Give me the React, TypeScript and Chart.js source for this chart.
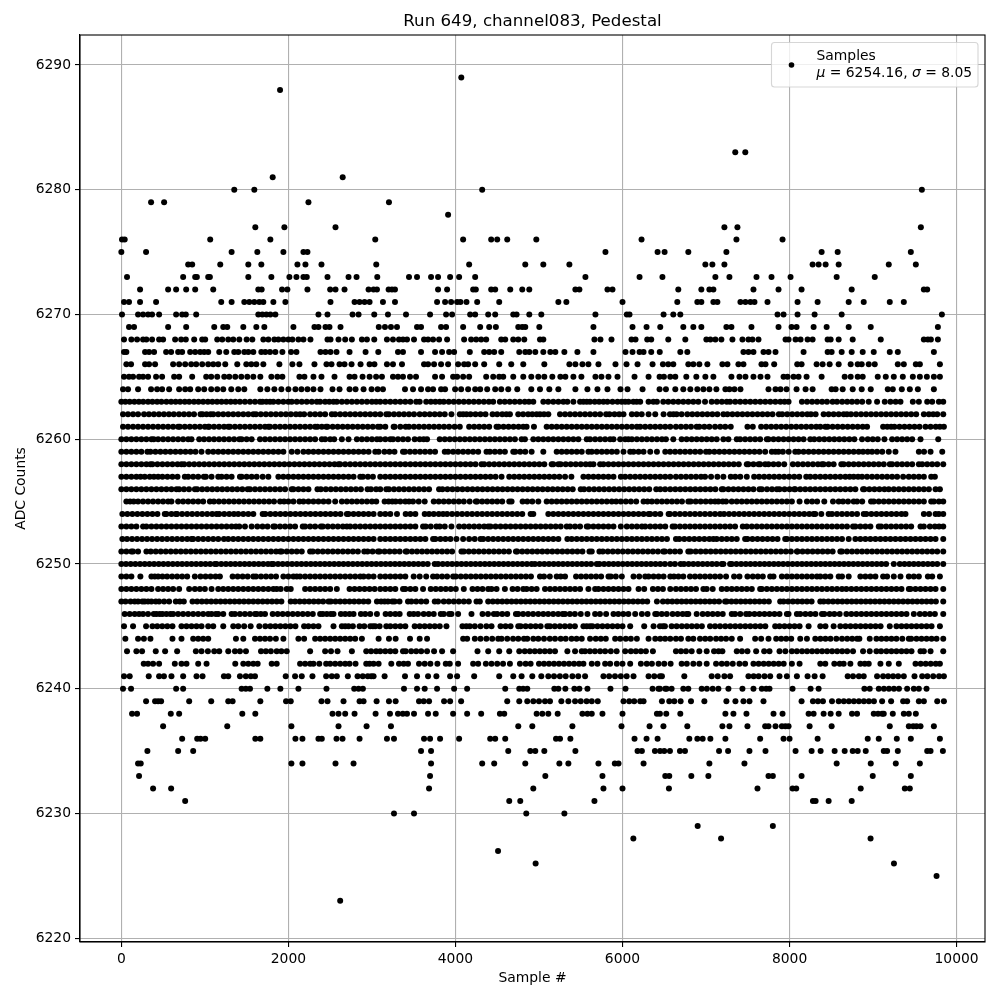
import React, { useEffect, useRef } from "react";
import { Chart, registerables } from "chart.js";

Chart.register(...registerables);

const xTicks = [0, 2000, 4000, 6000, 8000, 10000];
const yTicks = [6220, 6230, 6240, 6250, 6260, 6270, 6280, 6290];
const titleText = "Run 649, channel083, Pedestal";
const xLabel = "Sample #";
const yLabel = "ADC Counts";

const y6289 = [4070];
const y6288 = [1900];
const y6283 = [7350, 7470];
const y6281 = [1812, 2650];
const y6280 = [1352, 1592, 4320, 9584];
const y6279 = [356, 512, 2240, 3204];
const y6278 = [3912];
const y6277 = [1604, 1952, 2564, 7220, 7376, 9572];
const y6276 = [8, 40, 1064, 1784, 3040, 4092, 4428, 4500, 4620, 4968, 6228, 7364, 7916];
const y6275 = [0, 296, 1320, 1628, 1940, 2180, 2228, 5796, 6420, 6504, 6788, 7244, 8384, 8576, 9452];
const y6274 = [800, 848, 1184, 1520, 1676, 2108, 2204, 2396, 3052, 4164, 4836, 5052, 5364, 6992, 7076, 7220, 8276, 8348, 8432, 8588, 9188, 9512];
const y6273 = [68, 740, 884, 904, 1040, 1060, 1520, 1796, 2012, 2096, 2180, 2220, 2468, 2720, 2816, 3064, 3444, 3540, 3708, 3792, 3936, 4044, 4236, 5556, 6204, 6478, 7112, 7280, 7604, 7784, 8012, 8564, 9020];
const y6272 = [224, 560, 656, 776, 884, 1100, 1640, 1680, 1924, 1988, 2228, 2500, 2564, 2672, 2960, 3020, 3060, 3200, 3240, 3276, 3792, 3900, 4212, 4244, 4428, 4476, 4656, 4800, 4884, 5436, 5484, 5820, 5880, 6668, 6944, 7040, 7088, 7568, 7868, 8144, 8744, 9608, 9648];
const y6271 = [32, 92, 224, 416, 1196, 1320, 1472, 1532, 1592, 1652, 1700, 1820, 1964, 2504, 2792, 2852, 2912, 2972, 3132, 3276, 3780, 3876, 3948, 4020, 4060, 4132, 4260, 4524, 5232, 5328, 6000, 6656, 6896, 6944, 7088, 7136, 7412, 7472, 7532, 7580, 7736, 8096, 8336, 8708, 8888, 9200, 9368];
const y6270 = [8, 200, 260, 320, 368, 452, 656, 728, 772, 896, 1640, 1688, 1736, 1784, 1844, 2360, 2468, 2768, 2840, 3028, 3192, 3408, 3696, 3888, 3960, 4176, 4236, 4392, 4476, 4692, 4732, 4884, 5028, 5676, 6052, 6084, 6492, 6608, 6692, 7856, 7928, 8096, 8300, 8624, 9824];
const y6269 = [92, 152, 560, 776, 1112, 1220, 1268, 1460, 1616, 1712, 2060, 2312, 2360, 2444, 2492, 2624, 3082, 3156, 3228, 3300, 3540, 3588, 3828, 3888, 4092, 4296, 4404, 4484, 4752, 4800, 4836, 5004, 5652, 6120, 6288, 6452, 6728, 6848, 6944, 7244, 7304, 7544, 7868, 8024, 8084, 8288, 8444, 8708, 8972, 9776];
const y6268 = [32, 120, 188, 260, 300, 368, 452, 500, 644, 716, 772, 872, 968, 1004, 1148, 1208, 1280, 1340, 1412, 1500, 1568, 1700, 1760, 1832, 1880, 1940, 2000, 2048, 2120, 2180, 2264, 2468, 2504, 2600, 2680, 2760, 2880, 2940, 3028, 3180, 3252, 3324, 3372, 3420, 3504, 3624, 3672, 3732, 3804, 3900, 4104, 4188, 4248, 4308, 4368, 4548, 4596, 4692, 4752, 4824, 5012, 5052, 5664, 5736, 5868, 6108, 6156, 6296, 6344, 6548, 6752, 7004, 7052, 7112, 7184, 7316, 7436, 7508, 7556, 7628, 7952, 7988, 8072, 8132, 8216, 8276, 8456, 8492, 8588, 8756, 9092, 9608, 9656, 9692, 9776];
const y6267 = [32, 60, 284, 332, 392, 536, 596, 680, 728, 824, 884, 944, 992, 1040, 1172, 1256, 1352, 1400, 1472, 1520, 1580, 1676, 1724, 1780, 1844, 1928, 2032, 2096, 2384, 2444, 2504, 2576, 2732, 2924, 3076, 3312, 3372, 3588, 3756, 3840, 3924, 3984, 4172, 4344, 4404, 4464, 4548, 4764, 4836, 4884, 4956, 5052, 5136, 5196, 5304, 5460, 5652, 6036, 6120, 6204, 6252, 6344, 6446, 6692, 6776, 7448, 7508, 7568, 7688, 7748, 7832, 8168, 8456, 8504, 8624, 8744, 8876, 9008, 9200, 9296, 9728];
const y6266 = [60, 116, 284, 332, 404, 620, 692, 764, 836, 896, 968, 1040, 1100, 1160, 1244, 1388, 1496, 1556, 1616, 1700, 1892, 2048, 2132, 2312, 2456, 2516, 2612, 2672, 2756, 2864, 2972, 3030, 3180, 3252, 3360, 3624, 3672, 3744, 3828, 3912, 4032, 4104, 4152, 4236, 4344, 4524, 4668, 4812, 5064, 5364, 5436, 5520, 5592, 5712, 5916, 6048, 6180, 6360, 6484, 6548, 6608, 6788, 6848, 6920, 7016, 7196, 7256, 7388, 7448, 7664, 7712, 7816, 8092, 8144, 8324, 8396, 8480, 8588, 8732, 8816, 8864, 8948, 9020, 9296, 9368, 9512, 9560, 9800];
const y6265 = [32, 92, 140, 212, 260, 320, 416, 488, 632, 692, 848, 1016, 1076, 1148, 1232, 1292, 1364, 1436, 1508, 1580, 1664, 1796, 1868, 1928, 2132, 2192, 2300, 2396, 2552, 2732, 2792, 2888, 2972, 3050, 3120, 3252, 3312, 3372, 3456, 3528, 3756, 3840, 3972, 4020, 4092, 4164, 4368, 4452, 4524, 4572, 4692, 4812, 4908, 4992, 5064, 5160, 5256, 5316, 5412, 5508, 5676, 5748, 5832, 5940, 6144, 6312, 6444, 6496, 6572, 6632, 6764, 6884, 6992, 7088, 7304, 7400, 7472, 7568, 7652, 7736, 7928, 7976, 8048, 8108, 8204, 8384, 8660, 8732, 8816, 8876, 9056, 9152, 9248, 9356, 9476, 9560, 9644, 9728, 9800];
const y6264 = [20, 80, 200, 356, 428, 488, 572, 692, 764, 824, 920, 992, 1076, 1148, 1220, 1316, 1400, 1472, 1664, 1748, 1832, 1916, 2000, 2084, 2156, 2228, 2300, 2384, 2528, 2612, 2732, 2804, 2900, 2996, 3068, 3132, 3396, 3492, 3588, 3672, 3732, 3828, 3876, 3996, 4068, 4152, 4236, 4296, 4380, 4476, 4548, 4632, 4740, 4908, 5012, 5124, 5232, 5436, 5580, 5700, 5820, 5976, 6060, 6240, 6444, 6520, 6632, 6728, 6812, 6896, 6968, 7040, 7124, 7232, 7280, 7340, 7412, 7748, 7832, 7892, 7964, 8084, 8192, 8276, 8504, 8552, 8636, 8756, 8864, 8972, 9176, 9236, 9344, 9440, 9536, 9728];
const y6263 = [0, 48, 100, 156, 210, 262, 320, 372, 428, 480, 540, 596, 650, 704, 760, 812, 870, 924, 980, 1036, 1090, 1146, 1200, 1256, 1310, 1364, 1420, 1480, 1540, 1600, 1660, 1690, 1736, 1780, 1820, 1880, 1940, 2000, 2040, 2100, 2160, 2220, 2280, 2340, 2380, 2440, 2490, 2540, 2580, 2640, 2700, 2760, 2820, 2880, 2940, 3000, 3050, 3100, 3160, 3220, 3280, 3340, 3400, 3460, 3530, 3572, 3650, 3706, 3760, 3812, 3860, 3920, 3980, 4040, 4100, 4160, 4220, 4280, 4340, 4400, 4452, 4532, 4590, 4650, 4710, 4770, 4830, 4880, 4932, 5052, 5110, 5172, 5232, 5292, 5340, 5412, 5492, 5532, 5572, 5612, 5668, 5720, 5772, 5820, 5880, 5940, 5990, 6032, 6072, 6130, 6170, 6212, 6312, 6370, 6412, 6488, 6548, 6608, 6668, 6728, 6788, 6848, 6908, 6988, 7068, 7130, 7190, 7248, 7288, 7350, 7410, 7470, 7530, 7590, 7650, 7710, 7770, 7830, 7890, 7940, 7988, 8148, 8210, 8270, 8330, 8390, 8448, 8516, 8568, 8630, 8690, 8748, 8808, 8870, 8948, 9048, 9140, 9208, 9270, 9328, 9476, 9548, 9648, 9708, 9788, 9840];
const y6262 = [20, 80, 140, 200, 272, 330, 390, 450, 510, 570, 628, 690, 750, 810, 870, 948, 972, 1020, 1068, 1100, 1160, 1220, 1280, 1340, 1400, 1460, 1520, 1580, 1612, 1670, 1730, 1790, 1850, 1910, 1970, 2030, 2090, 2140, 2188, 2260, 2320, 2380, 2440, 2520, 2560, 2620, 2680, 2740, 2800, 2860, 2920, 2980, 3040, 3100, 3172, 3204, 3264, 3324, 3384, 3444, 3504, 3572, 3632, 3692, 3752, 3812, 3872, 3952, 4052, 4092, 4132, 4180, 4240, 4300, 4360, 4444, 4500, 4560, 4610, 4652, 4752, 4810, 4870, 4920, 4972, 5012, 5060, 5112, 5252, 5312, 5372, 5432, 5492, 5552, 5612, 5672, 5732, 5804, 5844, 5904, 5960, 6012, 6112, 6170, 6230, 6312, 6392, 6492, 6568, 6610, 6648, 6708, 6776, 6836, 6896, 6956, 7016, 7076, 7136, 7208, 7256, 7316, 7376, 7436, 7496, 7556, 7616, 7676, 7736, 7796, 7872, 7912, 7972, 8032, 8092, 8152, 8212, 8256, 8312, 8408, 8468, 8528, 8588, 8648, 8688, 8736, 8796, 8856, 8916, 8976, 9036, 9096, 9156, 9216, 9276, 9336, 9396, 9456, 9516, 9608, 9668, 9720, 9768, 9840];
const y6261 = [20, 80, 140, 200, 260, 320, 380, 440, 500, 560, 620, 680, 700, 760, 820, 880, 940, 1000, 1040, 1052, 1110, 1170, 1230, 1280, 1300, 1360, 1420, 1480, 1540, 1600, 1660, 1720, 1760, 1780, 1840, 1900, 1960, 2020, 2080, 2140, 2200, 2260, 2320, 2348, 2400, 2452, 2468, 2530, 2590, 2650, 2710, 2770, 2830, 2890, 2950, 3010, 3072, 3100, 3160, 3260, 3272, 3340, 3404, 3444, 3504, 3564, 3624, 3684, 3744, 3804, 3864, 3924, 3990, 4052, 4164, 4224, 4284, 4344, 4404, 4492, 4516, 4576, 4636, 4696, 4756, 4812, 4852, 4940, 5092, 5152, 5212, 5272, 5332, 5392, 5452, 5512, 5572, 5632, 5692, 5752, 5812, 5872, 5932, 5992, 6052, 6112, 6172, 6212, 6272, 6332, 6392, 6452, 6512, 6572, 6640, 6700, 6760, 6820, 6888, 6920, 6980, 7040, 7108, 7170, 7230, 7296, 7496, 7560, 7660, 7720, 7780, 7840, 7900, 7960, 8020, 8080, 8140, 8200, 8260, 8320, 8368, 8428, 8456, 8516, 8576, 8636, 8696, 8756, 8816, 8876, 8928, 9120, 9170, 9216, 9256, 9316, 9376, 9436, 9496, 9556, 9628, 9688, 9750, 9800, 9848];
const y6260 = [0, 60, 120, 180, 240, 300, 360, 388, 440, 500, 560, 620, 680, 740, 800, 840, 932, 990, 1050, 1110, 1170, 1230, 1290, 1350, 1412, 1440, 1500, 1560, 1660, 1720, 1780, 1840, 1900, 1960, 2020, 2080, 2140, 2200, 2260, 2320, 2400, 2440, 2500, 2548, 2640, 2720, 2820, 2880, 2940, 3000, 3060, 3100, 3160, 3220, 3252, 3312, 3372, 3432, 3512, 3572, 3620, 3660, 3812, 3872, 3932, 3992, 4052, 4112, 4172, 4232, 4292, 4352, 4412, 4472, 4532, 4592, 4652, 4712, 4792, 4832, 4932, 4992, 5052, 5112, 5172, 5232, 5292, 5352, 5412, 5472, 5572, 5612, 5672, 5732, 5792, 5852, 5892, 5972, 6032, 6070, 6112, 6172, 6232, 6292, 6352, 6412, 6472, 6520, 6608, 6708, 6768, 6828, 6888, 6948, 7008, 7068, 7128, 7208, 7268, 7368, 7408, 7468, 7528, 7588, 7648, 7728, 7748, 7808, 7868, 7928, 7988, 8048, 8108, 8168, 8248, 8296, 8356, 8416, 8476, 8536, 8596, 8656, 8716, 8776, 8868, 8936, 8996, 9056, 9136, 9228, 9288, 9348, 9408, 9468, 9568, 9780];
const y6259 = [0, 60, 120, 180, 240, 312, 348, 408, 468, 528, 588, 648, 708, 768, 828, 888, 960, 1040, 1100, 1160, 1220, 1280, 1340, 1400, 1460, 1520, 1580, 1640, 1700, 1760, 1820, 1880, 1940, 2040, 2108, 2180, 2240, 2300, 2360, 2420, 2480, 2540, 2600, 2660, 2720, 2780, 2840, 2900, 2960, 3040, 3080, 3150, 3210, 3270, 3372, 3396, 3456, 3516, 3576, 3636, 3696, 3756, 3872, 3912, 3972, 4032, 4092, 4152, 4212, 4272, 4372, 4412, 4472, 4532, 4592, 4692, 4716, 4776, 4836, 4912, 5052, 5212, 5272, 5332, 5392, 5452, 5512, 5592, 5632, 5692, 5752, 5812, 5872, 5932, 6012, 6092, 6132, 6192, 6252, 6332, 6412, 6512, 6570, 6630, 6690, 6750, 6810, 6870, 6930, 7000, 7040, 7100, 7160, 7220, 7280, 7340, 7400, 7460, 7520, 7580, 7640, 7708, 7788, 7830, 7868, 7920, 7990, 8068, 8108, 8168, 8228, 8288, 8348, 8408, 8468, 8528, 8588, 8648, 8708, 8768, 8828, 8880, 8936, 8988, 9048, 9110, 9188, 9268, 9548, 9610, 9688, 9828];
const y6258 = [0, 60, 120, 180, 240, 300, 348, 372, 432, 492, 552, 612, 672, 720, 752, 812, 872, 932, 992, 1052, 1112, 1172, 1232, 1292, 1352, 1412, 1472, 1532, 1592, 1652, 1712, 1772, 1832, 1892, 1952, 2012, 2072, 2132, 2192, 2252, 2312, 2372, 2432, 2492, 2552, 2600, 2620, 2680, 2740, 2800, 2860, 2920, 2980, 3040, 3100, 3160, 3220, 3280, 3340, 3400, 3460, 3520, 3580, 3640, 3700, 3760, 3820, 3880, 3940, 4000, 4060, 4120, 4180, 4240, 4312, 4344, 4404, 4464, 4524, 4584, 4644, 4704, 4764, 4824, 4884, 4944, 5004, 5064, 5152, 5172, 5232, 5260, 5320, 5380, 5440, 5500, 5560, 5612, 5652, 5732, 5772, 5832, 5892, 5952, 6012, 6072, 6132, 6192, 6252, 6312, 6372, 6432, 6492, 6552, 6612, 6672, 6732, 6792, 6852, 6912, 6972, 7032, 7092, 7152, 7212, 7272, 7332, 7392, 7488, 7508, 7568, 7628, 7648, 7708, 7748, 7808, 7868, 7936, 8040, 8100, 8160, 8220, 8280, 8340, 8388, 8408, 8468, 8528, 8620, 8648, 8708, 8768, 8828, 8888, 8948, 9008, 9068, 9128, 9200, 9228, 9288, 9348, 9408, 9468, 9548, 9588, 9648, 9708, 9768, 9840];
const y6257 = [0, 60, 120, 180, 230, 280, 340, 390, 440, 492, 552, 612, 672, 760, 800, 860, 920, 988, 1012, 1080, 1160, 1200, 1260, 1320, 1420, 1440, 1500, 1560, 1620, 1692, 1760, 1880, 1940, 2000, 2060, 2120, 2180, 2240, 2300, 2360, 2420, 2480, 2540, 2600, 2660, 2720, 2780, 2860, 2892, 2952, 3012, 3100, 3160, 3220, 3280, 3340, 3400, 3460, 3520, 3580, 3640, 3700, 3760, 3820, 3880, 3940, 4000, 4060, 4120, 4180, 4240, 4300, 4360, 4420, 4480, 4552, 4644, 4704, 4764, 4824, 4884, 4944, 5004, 5064, 5124, 5184, 5244, 5312, 5388, 5532, 5592, 5652, 5712, 5772, 5832, 5892, 5980, 6032, 6092, 6152, 6212, 6272, 6332, 6392, 6452, 6512, 6572, 6640, 6700, 6760, 6820, 6880, 6940, 6988, 7060, 7136, 7208, 7296, 7350, 7410, 7488, 7576, 7636, 7696, 7756, 7816, 7876, 7936, 7996, 8056, 8116, 8200, 8248, 8308, 8368, 8428, 8488, 8548, 8608, 8668, 8720, 8768, 8820, 8868, 8928, 8988, 9048, 9108, 9168, 9228, 9288, 9360, 9428, 9488, 9548, 9608, 9696, 9740];
const y6256 = [0, 60, 120, 180, 240, 300, 360, 420, 480, 540, 600, 660, 692, 750, 810, 880, 908, 968, 1028, 1088, 1148, 1208, 1268, 1328, 1388, 1448, 1512, 1540, 1600, 1660, 1720, 1780, 1840, 1900, 1960, 2040, 2060, 2120, 2180, 2240, 2348, 2388, 2448, 2508, 2568, 2628, 2688, 2748, 2808, 2868, 2948, 2988, 3050, 3100, 3172, 3204, 3264, 3324, 3384, 3444, 3504, 3564, 3624, 3684, 3804, 3844, 3904, 3964, 4024, 4084, 4144, 4204, 4264, 4324, 4384, 4444, 4504, 4564, 4624, 4684, 4744, 4804, 4864, 4924, 4984, 5044, 5104, 5164, 5224, 5284, 5344, 5404, 5500, 5540, 5600, 5660, 5720, 5780, 5840, 5900, 5960, 6020, 6080, 6140, 6200, 6260, 6320, 6404, 6452, 6510, 6572, 6632, 6692, 6752, 6812, 6872, 6932, 6992, 7052, 7112, 7188, 7208, 7268, 7328, 7388, 7448, 7508, 7568, 7640, 7668, 7730, 7790, 7848, 7880, 7940, 8000, 8056, 8068, 8128, 8188, 8248, 8308, 8368, 8428, 8488, 8548, 8608, 8668, 8728, 8788, 8880, 8896, 8956, 9016, 9076, 9136, 9188, 9248, 9308, 9368, 9428, 9488, 9548, 9608, 9668, 9748, 9800];
const y6255 = [60, 104, 148, 200, 260, 320, 380, 440, 500, 560, 600, 680, 740, 800, 860, 920, 980, 1060, 1108, 1168, 1228, 1288, 1348, 1408, 1468, 1528, 1588, 1648, 1708, 1768, 1828, 1900, 1948, 2000, 2060, 2132, 2180, 2240, 2300, 2360, 2420, 2480, 2560, 2640, 2700, 2760, 2820, 2880, 2940, 3000, 3052, 3152, 3200, 3244, 3284, 3340, 3400, 3444, 3492, 3560, 3632, 3740, 3800, 3860, 3920, 3980, 4040, 4100, 4170, 4244, 4260, 4320, 4380, 4440, 4500, 4560, 4644, 4672, 4804, 4860, 4920, 4992, 5092, 5152, 5212, 5272, 5332, 5392, 5452, 5512, 5572, 5632, 5692, 5752, 5812, 5872, 5924, 5980, 6040, 6100, 6164, 6252, 6300, 6352, 6412, 6472, 6532, 6592, 6652, 6712, 6788, 6816, 6876, 6936, 6996, 7056, 7108, 7148, 7200, 7240, 7308, 7368, 7428, 7488, 7548, 7608, 7668, 7728, 7788, 7848, 7908, 7968, 8028, 8120, 8208, 8270, 8330, 8416, 8520, 8588, 8640, 8700, 8768, 8808, 8870, 8976, 9008, 9068, 9128, 9188, 9248, 9308, 9368, 9428, 9488, 9548, 9608, 9696, 9728, 9788, 9840];
const y6254 = [12, 72, 132, 192, 252, 312, 372, 432, 520, 540, 600, 652, 668, 728, 788, 848, 908, 968, 1028, 1088, 1140, 1172, 1232, 1292, 1348, 1400, 1460, 1520, 1580, 1692, 1724, 1784, 1844, 1904, 1964, 2024, 2084, 2144, 2204, 2264, 2324, 2384, 2444, 2504, 2564, 2624, 2700, 2720, 2780, 2840, 2900, 2960, 3020, 3100, 3160, 3220, 3300, 3404, 3460, 3520, 3632, 3684, 3740, 3800, 3852, 3900, 3960, 4020, 4080, 4140, 4200, 4260, 4320, 4380, 4440, 4500, 4560, 4620, 4680, 4740, 4800, 4900, 4932, 5112, 5172, 5232, 5292, 5352, 5412, 5472, 5532, 5592, 5652, 5712, 5772, 5832, 5892, 5952, 6012, 6072, 6132, 6192, 6252, 6312, 6332, 6392, 6452, 6552, 6568, 6628, 6688, 6748, 6808, 6868, 6928, 6988, 7048, 7108, 7168, 7216, 7276, 7336, 7396, 7456, 7516, 7576, 7636, 7696, 7756, 7816, 7876, 7936, 7996, 8056, 8116, 8176, 8236, 8288, 8308, 8380, 8468, 8508, 8568, 8628, 8688, 8748, 8808, 8888, 8920, 8980, 9040, 9100, 9160, 9220, 9280, 9340, 9388, 9608, 9670, 9748, 9788, 9840];
const y6253 = [0, 60, 120, 180, 260, 300, 360, 420, 480, 540, 600, 660, 720, 780, 840, 900, 960, 1020, 1080, 1140, 1200, 1260, 1320, 1372, 1412, 1480, 1560, 1628, 1690, 1750, 1820, 1840, 1900, 1960, 2020, 2080, 2172, 2200, 2260, 2320, 2388, 2412, 2472, 2532, 2592, 2652, 2700, 2740, 2800, 2860, 2920, 2980, 3040, 3100, 3160, 3220, 3280, 3340, 3400, 3460, 3520, 3612, 3644, 3704, 3772, 3812, 3872, 3952, 4044, 4104, 4164, 4224, 4284, 4344, 4392, 4420, 4480, 4540, 4600, 4660, 4720, 4780, 4840, 4900, 4960, 5020, 5080, 5140, 5200, 5260, 5332, 5372, 5432, 5492, 5572, 5592, 5652, 5712, 5772, 5832, 5892, 5980, 6052, 6112, 6172, 6232, 6272, 6332, 6392, 6452, 6512, 6600, 6628, 6688, 6748, 6808, 6868, 6928, 6988, 7048, 7108, 7168, 7228, 7288, 7348, 7440, 7488, 7548, 7608, 7668, 7728, 7788, 7848, 7908, 7968, 8028, 8088, 8148, 8208, 8268, 8328, 8388, 8448, 8508, 8568, 8628, 8688, 8760, 8788, 8848, 8908, 8968, 9068, 9096, 9156, 9216, 9276, 9336, 9396, 9456, 9568, 9608, 9680, 9740, 9790, 9840];
const y6252 = [12, 68, 128, 188, 248, 308, 368, 428, 488, 548, 608, 668, 728, 788, 840, 860, 920, 980, 1040, 1100, 1160, 1228, 1280, 1340, 1400, 1460, 1520, 1580, 1640, 1700, 1760, 1820, 1880, 1940, 2000, 2060, 2120, 2180, 2240, 2300, 2360, 2420, 2480, 2540, 2600, 2660, 2720, 2780, 2840, 2900, 2960, 3020, 3100, 3160, 3220, 3280, 3340, 3400, 3460, 3520, 3580, 3640, 3732, 3760, 3820, 3880, 3940, 4012, 4092, 4164, 4230, 4300, 4332, 4392, 4452, 4512, 4572, 4632, 4692, 4752, 4812, 4872, 4932, 4992, 5052, 5112, 5172, 5232, 5340, 5392, 5452, 5512, 5572, 5632, 5692, 5752, 5812, 5872, 5932, 5992, 6052, 6112, 6172, 6232, 6292, 6352, 6412, 6472, 6532, 6640, 6680, 6740, 6800, 6860, 6920, 6980, 7040, 7088, 7128, 7188, 7248, 7308, 7368, 7468, 7496, 7556, 7616, 7676, 7736, 7796, 7856, 7948, 7968, 8028, 8088, 8148, 8208, 8268, 8328, 8388, 8448, 8508, 8568, 8628, 8708, 8788, 8848, 8908, 8968, 9028, 9088, 9148, 9208, 9268, 9328, 9388, 9448, 9508, 9568, 9628, 9688, 9748, 9840];
const y6251 = [0, 60, 120, 140, 200, 300, 352, 412, 472, 532, 592, 652, 712, 772, 832, 892, 952, 1012, 1072, 1132, 1192, 1252, 1312, 1372, 1432, 1492, 1552, 1612, 1672, 1732, 1792, 1852, 1900, 1920, 1980, 2040, 2100, 2160, 2260, 2292, 2352, 2412, 2472, 2532, 2592, 2652, 2712, 2772, 2832, 2908, 2948, 3008, 3072, 3092, 3152, 3212, 3272, 3332, 3404, 3420, 3480, 3540, 3600, 3660, 3720, 3780, 3840, 3900, 3960, 4072, 4100, 4160, 4220, 4280, 4340, 4400, 4460, 4520, 4580, 4640, 4724, 4740, 4800, 4860, 4920, 4980, 5040, 5100, 5160, 5220, 5280, 5340, 5400, 5460, 5520, 5604, 5632, 5724, 5764, 5824, 5884, 5944, 6004, 6064, 6124, 6184, 6244, 6304, 6364, 6424, 6488, 6508, 6568, 6628, 6688, 6788, 6816, 6876, 6936, 6996, 7056, 7116, 7176, 7236, 7296, 7356, 7416, 7476, 7536, 7596, 7656, 7716, 7776, 7836, 7896, 7956, 8016, 8088, 8096, 8156, 8216, 8276, 8336, 8396, 8456, 8516, 8608, 8628, 8688, 8748, 8808, 8868, 8928, 8988, 9048, 9108, 9168, 9228, 9288, 9348, 9408, 9468, 9528, 9588, 9648, 9708, 9768, 9840];
const y6250 = [0, 56, 112, 168, 224, 280, 336, 392, 448, 504, 560, 616, 672, 728, 784, 840, 896, 952, 1008, 1064, 1120, 1140, 1196, 1252, 1308, 1364, 1420, 1476, 1532, 1588, 1644, 1700, 1756, 1800, 1820, 1876, 1932, 1988, 2044, 2100, 2156, 2212, 2268, 2324, 2380, 2436, 2492, 2548, 2604, 2660, 2716, 2772, 2828, 2884, 2940, 2996, 3052, 3108, 3164, 3220, 3276, 3332, 3388, 3444, 3500, 3556, 3612, 3668, 3752, 3792, 3848, 3904, 3960, 4016, 4072, 4128, 4184, 4240, 4296, 4352, 4408, 4464, 4520, 4576, 4632, 4688, 4744, 4800, 4856, 4912, 4952, 5008, 5064, 5120, 5176, 5232, 5288, 5344, 5400, 5456, 5512, 5568, 5624, 5692, 5724, 5780, 5836, 5892, 5948, 6004, 6060, 6116, 6172, 6228, 6284, 6340, 6396, 6452, 6508, 6572, 6628, 6696, 6736, 6792, 6848, 6904, 6960, 7016, 7072, 7128, 7188, 7208, 7288, 7308, 7364, 7420, 7476, 7532, 7588, 7644, 7700, 7756, 7812, 7868, 7924, 7980, 8036, 8092, 8148, 8204, 8260, 8316, 8372, 8428, 8484, 8540, 8596, 8652, 8708, 8764, 8820, 8876, 8932, 8988, 9044, 9100, 9156, 9248, 9320, 9376, 9432, 9488, 9544, 9600, 9656, 9712, 9768, 9840];
const y6249 = [0, 60, 120, 228, 360, 400, 440, 492, 548, 608, 668, 728, 788, 880, 948, 1008, 1068, 1128, 1180, 1332, 1392, 1452, 1512, 1580, 1612, 1672, 1732, 1792, 1852, 1940, 2000, 2060, 2100, 2140, 2200, 2260, 2320, 2380, 2440, 2500, 2560, 2620, 2680, 2740, 2800, 2860, 2900, 2960, 3020, 3100, 3160, 3220, 3280, 3340, 3400, 3500, 3572, 3650, 3732, 3780, 3840, 3900, 3972, 4004, 4064, 4124, 4184, 4244, 4304, 4364, 4424, 4484, 4544, 4604, 4664, 4724, 4784, 4844, 4904, 5012, 5060, 5130, 5212, 5260, 5312, 5444, 5504, 5564, 5624, 5684, 5744, 5832, 5860, 5920, 5992, 6132, 6200, 6272, 6312, 6372, 6432, 6492, 6572, 6616, 6670, 6728, 6808, 6868, 6928, 6988, 7048, 7108, 7168, 7240, 7336, 7400, 7496, 7560, 7620, 7680, 7768, 7808, 7908, 7968, 8028, 8088, 8148, 8208, 8268, 8328, 8368, 8428, 8488, 8588, 8628, 8708, 8848, 8908, 8968, 9028, 9120, 9168, 9248, 9328, 9428, 9488, 9548, 9656, 9708, 9800];
const y6248 = [0, 60, 120, 180, 240, 300, 360, 440, 500, 560, 620, 692, 812, 880, 940, 1000, 1080, 1160, 1220, 1280, 1340, 1400, 1460, 1520, 1580, 1640, 1700, 1760, 1820, 1860, 1908, 1980, 2028, 2200, 2260, 2320, 2380, 2440, 2500, 2580, 2732, 2792, 2852, 2912, 2972, 3032, 3100, 3160, 3220, 3280, 3372, 3400, 3460, 3520, 3612, 3704, 3764, 3824, 3884, 3944, 4004, 4100, 4204, 4264, 4324, 4392, 4432, 4492, 4592, 4684, 4744, 4812, 4852, 4912, 4972, 5072, 5132, 5192, 5252, 5312, 5372, 5432, 5492, 5592, 5672, 5712, 5772, 5832, 5892, 5952, 6012, 6072, 6192, 6260, 6364, 6424, 6484, 6572, 6640, 6700, 6760, 6820, 6880, 6968, 7008, 7080, 7188, 7248, 7308, 7368, 7428, 7488, 7548, 7648, 7668, 7728, 7788, 7848, 7908, 7968, 8028, 8088, 8148, 8208, 8268, 8328, 8388, 8448, 8508, 8568, 8628, 8680, 8740, 8800, 8860, 8920, 8980, 9040, 9100, 9160, 9220, 9280, 9340, 9428, 9448, 9508, 9568, 9628, 9688, 9748, 9840];
const y6247 = [0, 50, 110, 160, 200, 252, 280, 320, 360, 412, 452, 512, 572, 652, 700, 748, 852, 908, 964, 1020, 1076, 1132, 1188, 1244, 1300, 1356, 1412, 1468, 1524, 1580, 1636, 1692, 1748, 1804, 1860, 1916, 2028, 2080, 2136, 2192, 2248, 2304, 2360, 2416, 2480, 2508, 2564, 2620, 2676, 2732, 2788, 2844, 2900, 2956, 3060, 3110, 3152, 3192, 3244, 3272, 3330, 3432, 3472, 3530, 3590, 3650, 3752, 3792, 3860, 3920, 3980, 4040, 4100, 4160, 4252, 4292, 4392, 4448, 4504, 4560, 4616, 4672, 4728, 4784, 4840, 4896, 4952, 5008, 5064, 5120, 5176, 5232, 5288, 5344, 5400, 5456, 5512, 5568, 5624, 5680, 5736, 5792, 5848, 5904, 5960, 6016, 6072, 6128, 6184, 6240, 6296, 6412, 6484, 6540, 6596, 6652, 6708, 6764, 6820, 6876, 6932, 6988, 7044, 7100, 7156, 7228, 7248, 7304, 7360, 7416, 7472, 7528, 7584, 7640, 7696, 7752, 7888, 7928, 7984, 8040, 8096, 8152, 8208, 8264, 8368, 8408, 8464, 8520, 8576, 8632, 8688, 8744, 8800, 8856, 8912, 8968, 9024, 9080, 9136, 9192, 9248, 9304, 9360, 9416, 9472, 9528, 9584, 9640, 9696, 9752, 9840];
const y6246 = [40, 100, 160, 212, 260, 320, 388, 420, 460, 492, 540, 588, 620, 680, 740, 800, 860, 920, 980, 1040, 1080, 1132, 1160, 1220, 1320, 1360, 1420, 1480, 1540, 1600, 1620, 1670, 1720, 1812, 1872, 1932, 1992, 2052, 2112, 2172, 2232, 2292, 2380, 2412, 2460, 2508, 2540, 2628, 2680, 2732, 2780, 2868, 2920, 2980, 3060, 3164, 3220, 3280, 3332, 3452, 3500, 3552, 3620, 3680, 3740, 3824, 3860, 3924, 3952, 4032, 4192, 4324, 4390, 4460, 4500, 4560, 4620, 4724, 4752, 4810, 4870, 4930, 4992, 5052, 5110, 5170, 5230, 5284, 5312, 5370, 5430, 5500, 5580, 5672, 5730, 5804, 5892, 5950, 6010, 6070, 6152, 6232, 6300, 6392, 6412, 6470, 6530, 6600, 6660, 6720, 6768, 6788, 6888, 6960, 7020, 7080, 7140, 7200, 7308, 7348, 7410, 7480, 7520, 7580, 7640, 7700, 7760, 7820, 7880, 7968, 7988, 8088, 8128, 8190, 8250, 8310, 8388, 8416, 8480, 8536, 8600, 8680, 8740, 8800, 8860, 8920, 8980, 9040, 9100, 9160, 9220, 9280, 9340, 9400, 9488, 9560, 9620, 9680, 9740, 9840];
const y6245 = [32, 140, 296, 372, 430, 490, 550, 612, 720, 780, 840, 900, 960, 1040, 1100, 1220, 1340, 1400, 1470, 1548, 1652, 1724, 1784, 1844, 1904, 1964, 2024, 2084, 2188, 2240, 2300, 2360, 2540, 2640, 2680, 2720, 2772, 2852, 2908, 2980, 3040, 3012, 3092, 3172, 3220, 3280, 3340, 3400, 3512, 3572, 3632, 3692, 3752, 3812, 3892, 4084, 4130, 4172, 4232, 4300, 4370, 4432, 4540, 4600, 4660, 4752, 4780, 4840, 4900, 4960, 5020, 5100, 5132, 5190, 5250, 5310, 5370, 5430, 5532, 5572, 5612, 5640, 5700, 5760, 5820, 5880, 5940, 6000, 6092, 6260, 6372, 6484, 6448, 6508, 6588, 6648, 6710, 6770, 6830, 6890, 6950, 7048, 7108, 7168, 7230, 7290, 7350, 7410, 7470, 7530, 7590, 7650, 7710, 7828, 7880, 7940, 8000, 8060, 8120, 8228, 8368, 8430, 8528, 8608, 8670, 8730, 8790, 8850, 8910, 8970, 9030, 9090, 9200, 9280, 9340, 9400, 9460, 9520, 9580, 9640, 9700, 9800];
const y6244 = [48, 200, 270, 348, 612, 720, 860, 920, 980, 1040, 1372, 1460, 1600, 1660, 1720, 1780, 1850, 1940, 2120, 2188, 2320, 2380, 2440, 2500, 2560, 2620, 2680, 2740, 2800, 2880, 3080, 3204, 3284, 3456, 3572, 3660, 4092, 4140, 4232, 4300, 4370, 4440, 4512, 4552, 4620, 4690, 4752, 4820, 4860, 4932, 4992, 5060, 5130, 5192, 5260, 5320, 5390, 5450, 5512, 5612, 5680, 5740, 5800, 5912, 5972, 6040, 6100, 6172, 6312, 6392, 6452, 6510, 6572, 6640, 6700, 6788, 6848, 6928, 6990, 7050, 7120, 7180, 7240, 7308, 7408, 7588, 7660, 7748, 7840, 7900, 7960, 8020, 8128, 8208, 8308, 8370, 8430, 8490, 8560, 8628, 8690, 8750, 8808, 8836, 8960, 9040, 9100, 9160, 9220, 9280, 9350, 9428, 9456, 9520, 9580, 9640, 9700, 9760, 9840];
const y6243 = [68, 180, 248, 412, 524, 668, 892, 960, 1036, 1112, 1172, 1280, 1360, 1420, 1492, 1672, 1730, 1790, 1860, 1916, 1980, 2260, 2440, 2510, 2588, 2760, 2932, 2990, 3050, 3100, 3160, 3220, 3280, 3372, 3404, 3470, 3530, 3590, 3660, 3744, 3840, 3972, 4264, 4392, 4524, 4644, 4764, 4830, 4890, 4950, 5010, 5070, 5130, 5192, 5340, 5432, 5512, 5552, 5610, 5670, 5732, 5792, 5860, 5930, 6032, 6100, 6160, 6220, 6280, 6364, 6640, 6700, 6760, 6828, 6920, 7008, 7096, 7150, 7196, 7368, 7430, 7496, 7600, 7696, 7760, 7880, 7950, 8028, 8088, 8150, 8210, 8270, 8330, 8390, 8450, 8510, 8570, 8630, 8690, 8760, 8880, 8960, 9040, 9096, 9160, 9220, 9280, 9340, 9400, 9460, 9568, 9608, 9688, 9840];
const y6242 = [268, 320, 380, 452, 640, 720, 780, 920, 1020, 1364, 1460, 1520, 1580, 1632, 1800, 1860, 2140, 2200, 2260, 2300, 2370, 2452, 2500, 2560, 2620, 2680, 2732, 2804, 2932, 3020, 3080, 2972, 3232, 3324, 3380, 3432, 3564, 3632, 3700, 3784, 3884, 3932, 4032, 4212, 4272, 4364, 4432, 4500, 4570, 4652, 4772, 4840, 4900, 5000, 5060, 5120, 5180, 5240, 5300, 5360, 5420, 5480, 5532, 5632, 5700, 5792, 5852, 5932, 6000, 6092, 6220, 6290, 6352, 6432, 6500, 6576, 6708, 6770, 6848, 6920, 7008, 7120, 7188, 7250, 7320, 7400, 7468, 7568, 7630, 7690, 7750, 7810, 7870, 7930, 8028, 8120, 8368, 8428, 8536, 8600, 8648, 8728, 8848, 8900, 8948, 9088, 9188, 9308, 9508, 9570, 9630, 9690, 9750, 9800];
const y6241 = [32, 100, 328, 452, 510, 600, 740, 900, 972, 1228, 1280, 1420, 1490, 1550, 1600, 1968, 2080, 2160, 2288, 2452, 2520, 2580, 2712, 2828, 2890, 2950, 3020, 2992, 3152, 3396, 3540, 3672, 3772, 3936, 4020, 4224, 4524, 4692, 4792, 4920, 5028, 5112, 5180, 5250, 5320, 5400, 5470, 5552, 5772, 5840, 5910, 5980, 6050, 6132, 6312, 6380, 6472, 6448, 6740, 7068, 7140, 7220, 7288, 7508, 7570, 7630, 7700, 7768, 7880, 7968, 8088, 8216, 8300, 8396, 8696, 8760, 8830, 8888, 9048, 9120, 9180, 9240, 9300, 9368, 9496, 9588, 9650, 9720, 9790, 9848];
const y6240 = [20, 116, 656, 740, 1440, 1490, 1540, 1748, 1904, 2120, 2456, 2788, 2840, 2892, 3384, 3540, 3632, 3780, 3984, 4140, 4596, 4764, 4810, 4860, 5184, 5232, 5316, 5424, 5484, 5580, 5856, 6036, 6360, 6430, 6512, 6448, 6528, 6588, 6728, 6788, 6948, 7010, 7080, 7148, 7268, 7436, 7568, 7668, 7720, 7760, 8036, 8252, 8348, 8896, 8960, 9068, 9130, 9190, 9250, 9310, 9408, 9488, 9548, 9640];
const y6239 = [296, 404, 440, 476, 812, 1076, 1280, 1332, 1664, 1972, 2028, 2396, 2468, 2660, 2852, 2900, 3056, 3204, 3284, 3564, 3620, 3684, 3864, 3936, 4068, 4620, 4764, 4860, 4932, 5000, 5072, 5132, 5268, 5352, 5432, 5500, 5570, 5632, 5704, 6012, 6080, 6140, 6212, 6252, 6472, 6560, 6620, 6696, 6820, 6980, 7244, 7352, 7448, 7520, 7688, 8144, 8280, 8340, 8400, 8508, 8588, 8650, 8710, 8770, 8830, 8890, 8950, 9010, 9108, 9216, 9360, 9408, 9548, 9608, 9768, 9848];
const y6238 = [128, 188, 592, 692, 1448, 1604, 2528, 2600, 2680, 2792, 3044, 3216, 3312, 3370, 3420, 3504, 3672, 3764, 3972, 4140, 4308, 4532, 4584, 4972, 5040, 5112, 5224, 5520, 5580, 5632, 5760, 6000, 6412, 6524, 6448, 6692, 7232, 7328, 7484, 7808, 7916, 8228, 8288, 8408, 8492, 8588, 8748, 8808, 9008, 9060, 9108, 9128, 9236, 9368, 9428, 9512];
const y6237 = [500, 1268, 2036, 2600, 2936, 3228, 4752, 4920, 5400, 5988, 6324, 6490, 6776, 7196, 7280, 7496, 7708, 7748, 7832, 7908, 7950, 7988, 8240, 8504, 9200, 9428, 9480, 9520, 9568, 9728];
const y6236 = [728, 908, 948, 1004, 1604, 1664, 2084, 2168, 2360, 2400, 2576, 2648, 2852, 3180, 3264, 3624, 3696, 3816, 4044, 4416, 4476, 4596, 5204, 5252, 5376, 6144, 6288, 6420, 6800, 6896, 6960, 7052, 7232, 7648, 7928, 8000, 8336, 8936, 9068, 9284, 9452, 9800];
const y6235 = [312, 680, 860, 3588, 3708, 4632, 4896, 4956, 5064, 5436, 6180, 6232, 6388, 6450, 6500, 6568, 6688, 6748, 7156, 7264, 7520, 7712, 8072, 8264, 8372, 8540, 8660, 8756, 8816, 8912, 9128, 9168, 9296, 9648, 9688, 9836];
const y6234 = [200, 232, 2036, 2168, 2564, 2780, 3708, 4320, 4464, 4836, 5244, 5352, 5712, 5908, 5952, 6252, 7040, 7460, 8564, 8972, 9272, 9560];
const y6233 = [212, 3696, 5076, 5760, 6512, 6560, 6824, 7028, 7748, 7800, 8144, 8996, 9452];
const y6232 = [380, 596, 3684, 4932, 5772, 6000, 6556, 7616, 8036, 8080, 8852, 9380, 9440];
const y6231 = [764, 4644, 4776, 5664, 8280, 8312, 8468, 8744];
const y6230 = [3264, 3504, 4848, 5304];
const y6229 = [6900, 7800];
const y6228 = [6130, 7180, 8970];
const y6227 = [4510];
const y6226 = [4960, 9250];
const y6225 = [9760];
const y6223 = [2620];

const rows: [number, number[]][] = [
  [6289, y6289], [6288, y6288], [6283, y6283], [6281, y6281], [6280, y6280], [6279, y6279], [6278, y6278], [6277, y6277],
  [6276, y6276], [6275, y6275], [6274, y6274], [6273, y6273], [6272, y6272], [6271, y6271], [6270, y6270], [6269, y6269],
  [6268, y6268], [6267, y6267], [6266, y6266], [6265, y6265], [6264, y6264], [6263, y6263], [6262, y6262], [6261, y6261],
  [6260, y6260], [6259, y6259], [6258, y6258], [6257, y6257], [6256, y6256], [6255, y6255], [6254, y6254], [6253, y6253],
  [6252, y6252], [6251, y6251], [6250, y6250], [6249, y6249], [6248, y6248], [6247, y6247], [6246, y6246], [6245, y6245],
  [6244, y6244], [6243, y6243], [6242, y6242], [6241, y6241], [6240, y6240], [6239, y6239], [6238, y6238], [6237, y6237],
  [6236, y6236], [6235, y6235], [6234, y6234], [6233, y6233], [6232, y6232], [6231, y6231], [6230, y6230], [6229, y6229],
  [6228, y6228], [6227, y6227], [6226, y6226], [6225, y6225], [6223, y6223],
];
const FONT = "'DejaVu Sans'";

const frame = {
  id: "frame",
  afterDatasetsDraw(c: any) {
    const { ctx, chartArea: a } = c;
    ctx.save();
    ctx.strokeStyle = "#000";
    ctx.lineWidth = 1.1;
    ctx.strokeRect(a.left, a.top, a.right - a.left, a.bottom - a.top);
    ctx.restore();
  },
  afterDraw(c: any) {
    const { ctx } = c;
    ctx.save();
    ctx.globalAlpha = 0.8;
    ctx.fillStyle = "#fff";
    ctx.beginPath();
    ctx.roundRect(771.5, 42.5, 206.5, 44.5, 3);
    ctx.fill();
    ctx.strokeStyle = "#ccc";
    ctx.lineWidth = 1.1;
    ctx.stroke();
    ctx.globalAlpha = 1;
    ctx.fillStyle = "#000";
    ctx.beginPath();
    ctx.arc(791.5, 65, 2.8, 0, Math.PI * 2);
    ctx.fill();
    ctx.textBaseline = "alphabetic";
    ctx.textAlign = "left";
    const reg = `13.89px ${FONT}`;
    const ita = `italic 13.89px ${FONT}`;
    ctx.font = reg;
    ctx.fillText("Samples", 816.5, 59.5);
    let x = 816.5;
    for (const [t, f] of [["μ", ita], [" = 6254.16, ", reg], ["σ", ita], [" = 8.05", reg]] as [string, string][]) {
      ctx.font = f;
      ctx.fillText(t, x, 76.5);
      x += ctx.measureText(t).width;
    }
    ctx.restore();
  },
};

export default function App() {
  const ref = useRef<HTMLCanvasElement>(null);
  useEffect(() => {
    document.body.style.margin = "0";
    const data = rows.flatMap(([lv, xs]) => xs.map((x) => ({ x, y: lv })));
    const tickFont = { family: FONT, size: 13.89 };
    const chart = new Chart(ref.current!, {
      type: "scatter",
      data: { datasets: [{ label: "Samples", data, backgroundColor: "#000", borderColor: "#000", pointRadius: 3, pointBorderWidth: 0 }] },
      plugins: [frame],
      options: {
        animation: false,
        responsive: false,
        layout: { padding: { right: 15, left: 0, top: 0, bottom: 0 } },
        plugins: {
          legend: { display: false },
          tooltip: { enabled: false },
          title: { display: true, text: titleText, fullSize: false, color: "#000", font: { family: FONT, size: 16.67, weight: "normal" }, padding: { top: 12, bottom: 3 } },
        },
        scales: {
          x: {
            type: "linear", min: -495, max: 10340,
            afterFit: (s: any) => { s.height = 58; },
            afterBuildTicks: (s: any) => { s.ticks = xTicks.map((value) => ({ value })); },
            grid: { color: "#b0b0b0", lineWidth: 1.1, tickColor: "#000", tickLength: 5, tickWidth: 1.1 },
            border: { color: "#000", width: 1.1 },
            ticks: { color: "#000", font: tickFont, padding: 4, maxRotation: 0, callback: (v: any) => String(v) },
            title: { display: true, text: xLabel, color: "#000", font: tickFont, padding: { top: 4, bottom: 13 } },
          },
          y: {
            type: "linear", min: 6219.7, max: 6292.4,
            afterFit: (s: any) => { s.width = 80; },
            afterBuildTicks: (s: any) => { s.ticks = yTicks.map((value) => ({ value })); },
            grid: { color: "#b0b0b0", lineWidth: 1.1, tickColor: "#000", tickLength: 5, tickWidth: 1.1 },
            border: { color: "#000", width: 1.1 },
            ticks: { color: "#000", font: tickFont, padding: 4, callback: (v: any) => String(v) },
            title: { display: true, text: yLabel, color: "#000", font: tickFont, padding: { top: 13, bottom: 4 } },
          },
        },
      },
    } as any);
    return () => chart.destroy();
  }, []);
  return <canvas ref={ref} width={1000} height={1000} style={{ display: "block" }} />;
}
